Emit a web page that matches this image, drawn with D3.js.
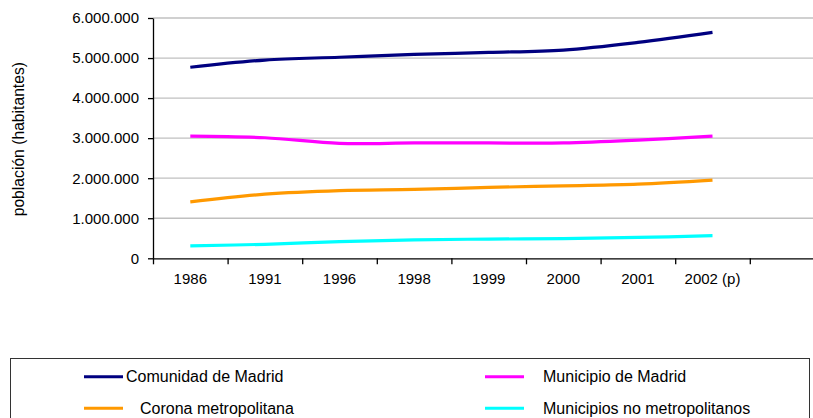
<!DOCTYPE html>
<html>
<head>
<meta charset="utf-8">
<script src="https://cdn.jsdelivr.net/npm/d3@7"></script>
<style>
  html, body { margin: 0; padding: 0; background: #fff; }
  svg { display: block; font-family: "Liberation Sans", Arial, sans-serif; }
</style>
</head>
<body>
<svg id="chart" width="813" height="418"></svg>
<script>
// Categories along the x axis (the last band is left empty)
const years = ["1986", "1991", "1996", "1998", "1999", "2000", "2001", "2002 (p)", ""];
const yTicks = [0, 1000000, 2000000, 3000000, 4000000, 5000000, 6000000];

// Population by area (habitantes)
const comunidadMadrid = [4770000, 4950000, 5020000, 5090000, 5140000, 5200000, 5390000, 5640000];
const municipioMadrid = [3050000, 3010000, 2870000, 2880000, 2880000, 2880000, 2950000, 3050000];
const coronaMetropolitana = [1410000, 1600000, 1690000, 1720000, 1770000, 1810000, 1850000, 1950000];
const municipiosNoMetro = [310000, 350000, 415000, 460000, 480000, 490000, 520000, 565000];

const seriesNames = ["Comunidad de Madrid", "Municipio de Madrid", "Corona metropolitana", "Municipios no metropolitanos"];
const seriesColors = ["#000080", "#ff00ff", "#ff9900", "#00ffff"];
const seriesValues = [comunidadMadrid, municipioMadrid, coronaMetropolitana, municipiosNoMetro];

const svg = d3.select("#chart");
const plotLeft = 153, plotTop = 18, plotBottom = 258.3, bandW = 74.6;
const plotRight = plotLeft + bandW * years.length;

const x = d3.scaleBand().domain(years).range([plotLeft, plotRight]).paddingInner(0).paddingOuter(0);
const y = d3.scaleLinear().domain([0, 6000000]).range([plotBottom, plotTop]);
const fmt = v => d3.format(",")(v).replace(/,/g, ".");

// Horizontal gridlines
svg.append("g")
  .selectAll("line")
  .data(yTicks.filter(d => d > 0))
  .join("line")
  .attr("x1", plotLeft).attr("x2", plotRight)
  .attr("y1", d => y(d)).attr("y2", d => y(d))
  .attr("stroke", "#c0c0c0").attr("stroke-width", 1.3);

// Y axis
const yAxis = svg.append("g")
  .attr("transform", `translate(${plotLeft},0)`)
  .call(d3.axisLeft(y).tickValues(yTicks).tickFormat(fmt).tickSize(5).tickSizeOuter(0));
yAxis.select(".domain").attr("stroke", "#000").attr("stroke-width", 1.3);
yAxis.selectAll(".tick line").attr("stroke", "#000").attr("stroke-width", 1.3);
yAxis.selectAll(".tick text")
  .attr("font-size", "15px").attr("fill", "#000").attr("x", -14)
  .attr("font-family", "Liberation Sans, Arial, sans-serif");

// X axis: tick marks on band boundaries, labels centred in bands
const xb = d3.scaleLinear().domain([0, years.length]).range([plotLeft, plotRight]);
const xTickAxis = svg.append("g")
  .attr("transform", `translate(0,${plotBottom})`)
  .call(d3.axisBottom(xb).tickValues(d3.range(0, years.length + 1)).tickFormat("").tickSize(6).tickSizeOuter(0));
xTickAxis.select(".domain").attr("stroke", "#000").attr("stroke-width", 1.3);
xTickAxis.selectAll(".tick line").attr("stroke", "#000").attr("stroke-width", 1.3);

const xLabelAxis = svg.append("g")
  .attr("transform", `translate(0,${plotBottom})`)
  .call(d3.axisBottom(x).tickSize(0).tickPadding(15));
xLabelAxis.select(".domain").remove();
xLabelAxis.selectAll(".tick text")
  .attr("font-size", "15px").attr("fill", "#000")
  .attr("font-family", "Liberation Sans, Arial, sans-serif");

// Y axis title
svg.append("text")
  .attr("transform", `translate(18.5,${(plotTop + plotBottom) / 2 + 1}) rotate(-90)`)
  .attr("text-anchor", "middle")
  .attr("dominant-baseline", "central")
  .attr("font-size", "15.7px")
  .text("población (habitantes)");

// Series lines (smoothed)
const line = d3.line()
  .x((d, i) => x(years[i]) + x.bandwidth() / 2)
  .y(d => y(d))
  .curve(d3.curveCatmullRom.alpha(0));

svg.append("g")
  .selectAll("path")
  .data(seriesValues)
  .join("path")
  .attr("d", d => line(d))
  .attr("fill", "none")
  .attr("stroke", (d, i) => seriesColors[i])
  .attr("stroke-width", 3.2)
  .attr("stroke-linecap", "butt");

// Legend
const legend = svg.append("g");
legend.append("rect")
  .attr("x", 10.5).attr("y", 358.5)
  .attr("width", 799).attr("height", 80)
  .attr("fill", "none").attr("stroke", "#333").attr("stroke-width", 1);

const legendPos = [
  { lx: 84, ty: 376.7, tx: 126 },
  { lx: 485, ty: 376.7, tx: 543 },
  { lx: 84, ty: 408.3, tx: 140 },
  { lx: 485, ty: 408.3, tx: 543 }
];
seriesNames.forEach((name, i) => {
  const p = legendPos[i];
  legend.append("line")
    .attr("x1", p.lx).attr("x2", p.lx + 39)
    .attr("y1", p.ty).attr("y2", p.ty)
    .attr("stroke", seriesColors[i]).attr("stroke-width", 3);
  legend.append("text")
    .attr("x", p.tx).attr("y", p.ty)
    .attr("dominant-baseline", "central")
    .attr("font-size", "16px")
    .text(name);
});
</script>
</body>
</html>
